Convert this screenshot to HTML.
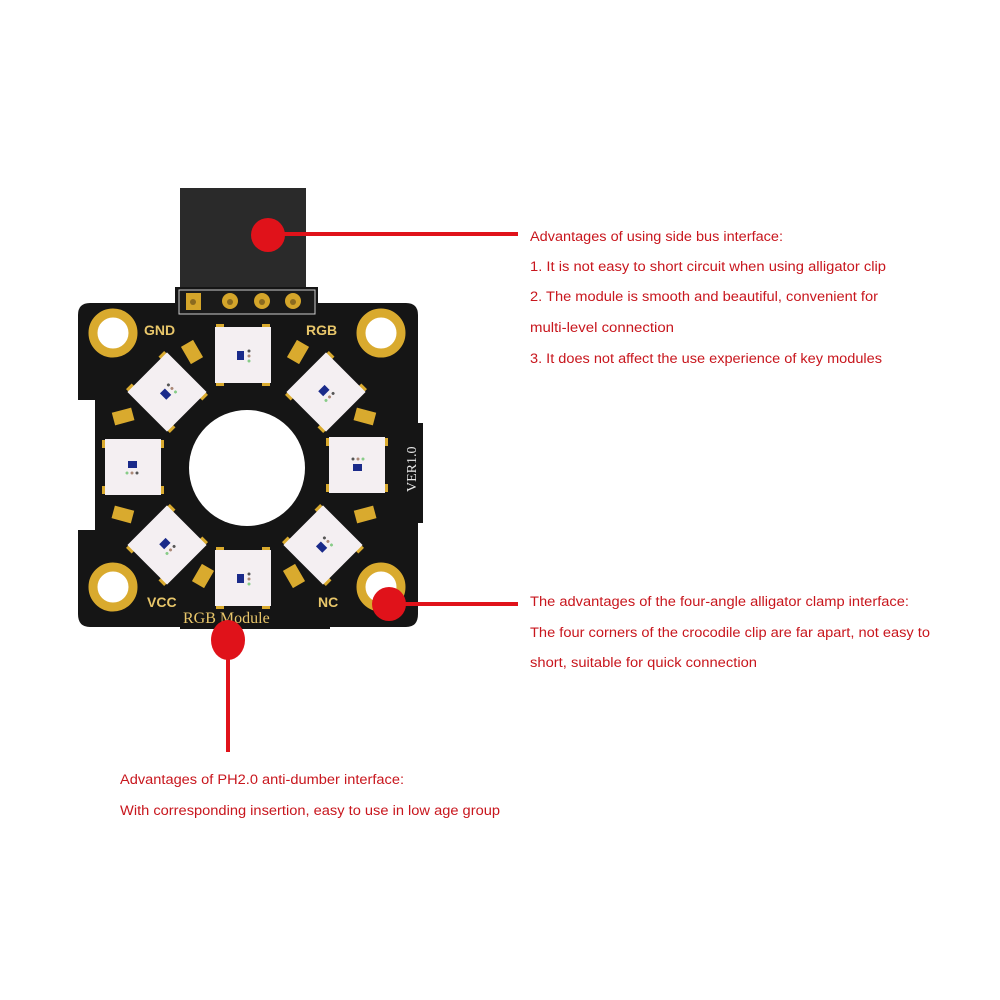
<!DOCTYPE html>
<html><head><meta charset="utf-8"><style>
html,body{margin:0;padding:0;background:#fff;width:1000px;height:1000px;overflow:hidden}
svg{display:block}
text{font-family:"Liberation Sans",sans-serif;fill:#c8161d}
</style></head><body>
<svg width="1000" height="1000" viewBox="0 0 1000 1000" xmlns="http://www.w3.org/2000/svg">
<rect x="180" y="188" width="126" height="104" fill="#2a2a2a"/>
<path d="M90,303 L175,303 L175,287 L318,287 L318,303 L406,303 Q418,303 418,315 L418,423 L423,423 L423,523 L418,523 L418,614 Q418,627 406,627 L330,627 L330,629 L180,629 L180,627 L90,627 Q78,627 78,614 L78,530 L95,530 L95,400 L78,400 L78,315 Q78,303 90,303 Z" fill="#151515"/>
<rect x="179" y="290" width="136" height="24" fill="#1a1a1a" stroke="#ccc" stroke-width="1"/>
<g fill="#d4a52a">
<rect x="186" y="293" width="15" height="17"/>
<circle cx="230" cy="301" r="8"/><circle cx="262" cy="301" r="8"/><circle cx="293" cy="301" r="8"/>
</g>
<g fill="#8a6a20"><circle cx="193" cy="302" r="3"/><circle cx="230" cy="302" r="3"/><circle cx="262" cy="302" r="3"/><circle cx="293" cy="302" r="3"/></g>
<g fill="#fff" stroke="#d9aa2e" stroke-width="9">
<circle cx="113" cy="333" r="20"/><circle cx="381" cy="333" r="20"/>
<circle cx="113" cy="587" r="20"/><circle cx="381" cy="587" r="20"/>
</g>
<circle cx="247" cy="468" r="58" fill="#fff"/>
<g fill="#d9aa2e">
<rect x="185" y="342" width="14" height="20" transform="rotate(-30 192 352)"/>
<rect x="291" y="342" width="14" height="20" transform="rotate(30 298 352)"/>
<rect x="113" y="410" width="20" height="13" transform="rotate(-15 123 416)"/>
<rect x="355" y="410" width="20" height="13" transform="rotate(15 365 416)"/>
<rect x="113" y="508" width="20" height="13" transform="rotate(15 123 514)"/>
<rect x="355" y="508" width="20" height="13" transform="rotate(-15 365 514)"/>
<rect x="196" y="566" width="14" height="20" transform="rotate(30 203 576)"/>
<rect x="287" y="566" width="14" height="20" transform="rotate(-30 294 576)"/>
</g>
<defs>
<g id="led">
<rect x="-27" y="-31" width="8" height="6" fill="#d9aa2e"/><rect x="19" y="-31" width="8" height="6" fill="#d9aa2e"/>
<rect x="-27" y="25" width="8" height="6" fill="#d9aa2e"/><rect x="19" y="25" width="8" height="6" fill="#d9aa2e"/>
<rect x="-28" y="-28" width="56" height="56" fill="#f4eff2"/>
<rect x="-6" y="-4" width="7" height="9" fill="#1a2a8a"/>
<circle cx="6" cy="-4" r="1.5" fill="#555"/><circle cx="6" cy="1" r="1.5" fill="#a87"/><circle cx="6" cy="6" r="1.5" fill="#8c8"/>
</g>
</defs>
<use href="#led" transform="translate(243,355)"/>
<use href="#led" transform="translate(243,578)"/>
<use href="#led" transform="translate(133,467) rotate(90)"/>
<use href="#led" transform="translate(357,465) rotate(-90)"/>
<use href="#led" transform="translate(167,392) rotate(-45)"/>
<use href="#led" transform="translate(326,392) rotate(45)"/>
<use href="#led" transform="translate(167,545) rotate(45)"/>
<use href="#led" transform="translate(323,545) rotate(-45)"/>
<g style="font-weight:bold;font-size:14px">
<text x="144" y="335" style="fill:#e8c66a">GND</text>
<text x="306" y="335" style="fill:#e8c66a">RGB</text>
<text x="147" y="607" style="fill:#e8c66a">VCC</text>
<text x="318" y="607" style="fill:#e8c66a">NC</text>
</g>
<text x="183" y="623" style="font-family:'Liberation Serif',serif;fill:#e8c66a;font-size:16px">RGB Module</text>
<text transform="translate(416,492) rotate(-90)" style="font-family:'Liberation Serif',serif;fill:#e8e8e8;font-size:14px">VER1.0</text>
<g fill="#e0121a" stroke="#e0121a">
<circle cx="268" cy="235" r="17" stroke="none"/>
<line x1="268" y1="234" x2="518" y2="234" stroke-width="4"/>
<circle cx="389" cy="604" r="17" stroke="none"/>
<line x1="389" y1="604" x2="518" y2="604" stroke-width="4"/>
<ellipse cx="228" cy="640" rx="17" ry="20" stroke="none"/>
<line x1="228" y1="640" x2="228" y2="752" stroke-width="4"/>
</g>
<g font-size="13.5">
<text x="530" y="241" textLength="253" lengthAdjust="spacingAndGlyphs">Advantages of using side bus interface:</text>
<text x="530" y="271" textLength="356" lengthAdjust="spacingAndGlyphs">1. It is not easy to short circuit when using alligator clip</text>
<text x="530" y="301" textLength="348" lengthAdjust="spacingAndGlyphs">2. The module is smooth and beautiful, convenient for</text>
<text x="530" y="332" textLength="144" lengthAdjust="spacingAndGlyphs">multi-level connection</text>
<text x="530" y="363" textLength="352" lengthAdjust="spacingAndGlyphs">3. It does not affect the use experience of key modules</text>
<text x="530" y="606" textLength="379" lengthAdjust="spacingAndGlyphs">The advantages of the four-angle alligator clamp interface:</text>
<text x="530" y="637" textLength="400" lengthAdjust="spacingAndGlyphs">The four corners of the crocodile clip are far apart, not easy to</text>
<text x="530" y="667" textLength="227" lengthAdjust="spacingAndGlyphs">short, suitable for quick connection</text>
<text x="120" y="784" textLength="284" lengthAdjust="spacingAndGlyphs">Advantages of PH2.0 anti-dumber interface:</text>
<text x="120" y="815" textLength="380" lengthAdjust="spacingAndGlyphs">With corresponding insertion, easy to use in low age group</text>
</g>
</svg>
</body></html>
